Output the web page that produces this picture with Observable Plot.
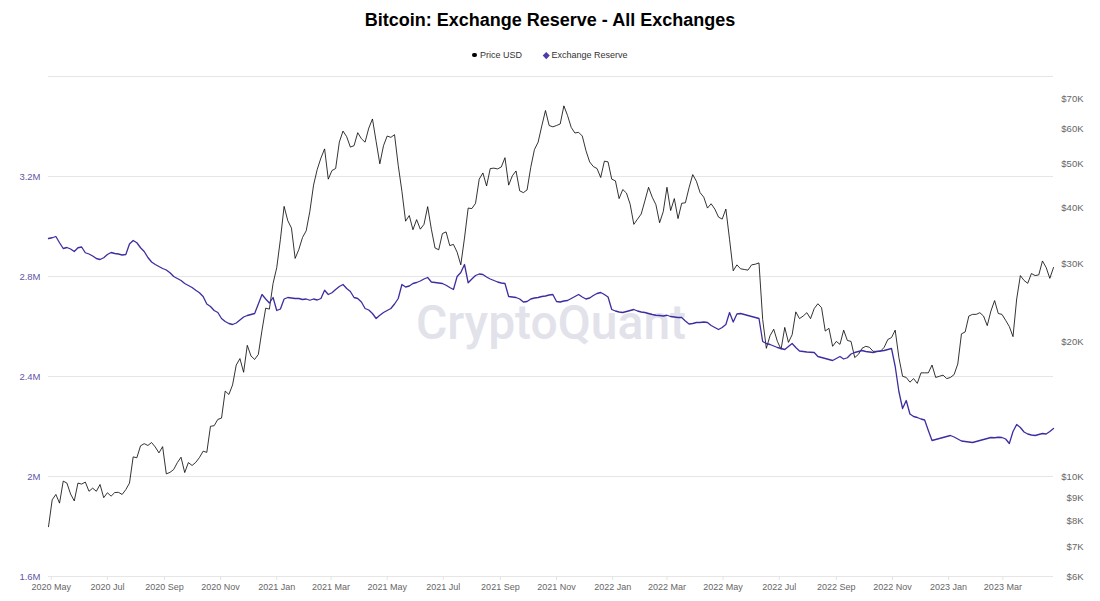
<!DOCTYPE html>
<html>
<head>
<meta charset="utf-8">
<script src="https://cdn.jsdelivr.net/npm/d3@7"></script>
<script src="https://cdn.jsdelivr.net/npm/@observablehq/plot@0.6"></script>
<style>
  html, body { margin: 0; padding: 0; background: #fff; }
  body { font-family: "Liberation Sans", Arial, sans-serif; }
  #wrap { position: relative; width: 1100px; height: 601px; overflow: hidden; background: #fff; }
  #title { position: absolute; top: 10px; left: 0; width: 1100px; text-align: center; font-weight: bold; font-size: 18px; color: #000; }
  #legend { position: absolute; top: 50px; left: 0; width: 1100px; display: flex; justify-content: center; gap: 22px; font-size: 9px; color: #333; line-height: 10px; }
  #legend .item { display: flex; align-items: center; gap: 3px; }
  #legend .dot { width: 4.5px; height: 4.5px; border-radius: 50%; background: #000; display: inline-block; }
  #legend .dia { width: 4.5px; height: 4.5px; background: #4b3caa; transform: rotate(45deg); display: inline-block; }
  .layer { position: absolute; left: 0; top: 66px; }
</style>
</head>
<body>
<div id="wrap">
  <div id="title">Bitcoin: Exchange Reserve - All Exchanges</div>
  <div id="legend">
    <span class="item"><span class="dot"></span>Price USD</span>
    <span class="item"><span class="dia"></span>Exchange Reserve</span>
  </div>
  <div id="layerA" class="layer"></div>
  <div id="layerB" class="layer"></div>
  <div id="layerC" class="layer"></div>
</div>
<script>
// ---- data (one value every 4 days, starting 2020-04-28) ----
const startDate = "2020-04-28";
const stepDays = 4;

const priceUSD = [
  7750,8900,9150,8750,9800,9700,9170,8850,9700,9650,
  9750,9300,9450,9300,9630,9000,9230,9070,9240,9250,
  9150,9380,9700,11100,11050,11750,11880,11770,11950,11680,
  11330,11700,10170,10250,10400,10780,11080,10240,10780,10620,
  10790,11060,11430,11360,12990,13030,13460,13550,15570,15300,
  16070,17800,18400,17150,19700,18650,18320,18800,21300,23850,
  23730,27080,29370,33990,40250,37400,36000,30800,32250,34300,
  35500,39250,44900,48700,51600,54100,46300,48400,48900,56000,
  59300,57600,54600,55000,58800,57000,56000,60200,63100,56200,
  50100,55000,57800,57400,58200,49700,43500,37300,38400,35700,
  37600,35800,36700,40200,35800,32500,32200,35000,35300,32900,
  33100,31800,29800,34200,39900,39800,40900,46300,47800,44700,
  48900,49000,48800,49300,51700,44900,47100,48300,43600,43200,
  43800,49200,53900,56000,60900,65900,61000,60600,61000,61500,
  67500,64200,60400,58700,58900,57800,53600,50600,49400,48900,
  46700,50800,50600,46300,45900,41900,43900,43100,40700,36700,
  37700,38700,41400,44400,42200,40600,37000,39200,44400,39400,
  41900,37800,40900,41000,44300,47400,45800,43200,42200,39900,
  40800,39700,38100,37700,39700,34000,28900,29800,29200,29100,
  29000,29800,29900,30100,22500,19400,20700,21400,20100,19300,
  21600,20000,20800,23400,22600,22900,23300,22600,23800,24400,
  23900,21200,21500,19600,20100,19800,21300,20200,20100,18500,
  18800,19400,19600,19500,19100,19100,19100,19500,20300,20500,
  21300,18500,16800,16700,16300,16600,16200,17100,17100,17100,
  17800,16700,16800,16900,16600,16700,16950,17900,20900,21100,
  22900,23100,23100,23300,22900,21800,23500,24800,23200,23100,
  22400,21700,20600,25000,28200,27500,27100,28500,28200,28300,
  30400,29400,27800,29400
];

// Exchange reserve, millions of BTC
const reserveM = [
  2.952,2.955,2.96,2.935,2.912,2.916,2.91,2.90,2.915,2.918,
  2.895,2.89,2.882,2.872,2.868,2.875,2.888,2.896,2.892,2.89,
  2.886,2.888,2.93,2.944,2.935,2.915,2.90,2.876,2.858,2.848,
  2.84,2.832,2.826,2.815,2.80,2.792,2.784,2.772,2.764,2.756,
  2.745,2.735,2.72,2.69,2.68,2.664,2.656,2.632,2.62,2.612,
  2.608,2.614,2.626,2.638,2.644,2.648,2.652,2.69,2.728,2.71,
  2.694,2.716,2.664,2.67,2.71,2.716,2.714,2.712,2.712,2.708,
  2.71,2.705,2.71,2.706,2.712,2.745,2.728,2.735,2.748,2.76,
  2.768,2.752,2.74,2.716,2.712,2.698,2.672,2.666,2.652,2.632,
  2.645,2.656,2.664,2.672,2.69,2.712,2.768,2.758,2.762,2.772,
  2.776,2.782,2.79,2.796,2.778,2.776,2.774,2.772,2.765,2.756,
  2.748,2.8,2.816,2.848,2.775,2.79,2.804,2.81,2.808,2.798,
  2.79,2.784,2.778,2.774,2.772,2.72,2.718,2.716,2.71,2.698,
  2.7,2.71,2.714,2.716,2.72,2.722,2.726,2.728,2.7,2.698,
  2.702,2.704,2.712,2.72,2.728,2.718,2.71,2.714,2.724,2.732,
  2.736,2.728,2.718,2.668,2.662,2.658,2.656,2.66,2.664,2.668,
  2.662,2.658,2.656,2.652,2.648,2.645,2.644,2.642,2.645,2.64,
  2.638,2.636,2.636,2.622,2.61,2.612,2.616,2.616,2.618,2.616,
  2.604,2.596,2.588,2.596,2.608,2.656,2.618,2.65,2.652,2.648,
  2.644,2.64,2.636,2.632,2.54,2.532,2.528,2.522,2.516,2.512,
  2.508,2.52,2.532,2.516,2.502,2.5,2.498,2.497,2.496,2.48,
  2.476,2.472,2.468,2.464,2.472,2.48,2.47,2.475,2.49,2.496,
  2.5,2.504,2.5,2.498,2.496,2.5,2.502,2.504,2.508,2.512,
  2.44,2.34,2.272,2.304,2.25,2.24,2.236,2.23,2.226,2.184,
  2.144,2.148,2.152,2.156,2.16,2.164,2.158,2.15,2.142,2.14,
  2.138,2.136,2.14,2.144,2.148,2.152,2.156,2.155,2.157,2.156,
  2.15,2.132,2.18,2.208,2.196,2.178,2.17,2.166,2.164,2.168,
  2.172,2.17,2.18,2.192
];

const monthTicks = [
  "2020-05-01","2020-07-01","2020-09-01","2020-11-01",
  "2021-01-01","2021-03-01","2021-05-01","2021-07-01","2021-09-01","2021-11-01",
  "2022-01-01","2022-03-01","2022-05-01","2022-07-01","2022-09-01","2022-11-01",
  "2023-01-01","2023-03-01"
];
const reserveTicks = [1.6, 2, 2.4, 2.8, 3.2];
const reserveGrid = [1.6, 2, 2.4, 2.8, 3.2, 3.6];
const priceTicks = [6000, 7000, 8000, 9000, 10000, 20000, 30000, 40000, 50000, 60000, 70000];

// ---- build table ----
const n = Math.min(priceUSD.length, reserveM.length);
const t0 = new Date(startDate + "T00:00:00Z");
const rows = d3.range(n).map(i => ({
  date: d3.utcDay.offset(t0, stepDays * i),
  price: priceUSD[i],
  reserve: reserveM[i]
}));

const W = 1100, H = 535;
const common = {
  width: W, height: H,
  marginTop: 10, marginBottom: 25, marginLeft: 48, marginRight: 47,
  style: { background: "transparent", fontFamily: "Liberation Sans, Arial, sans-serif", overflow: "visible" }
};
const xDomain = [rows[0].date, rows[n - 1].date];

// Layer A: watermark, grid, left axis, x axis
const layerA = Plot.plot({
  ...common,
  x: { type: "utc", domain: xDomain },
  y: { domain: [1.6, 3.6] },
  marks: [
    Plot.text(["CryptoQuant"], { frameAnchor: "middle", dy: -3, fontSize: 48, fill: "#e2e2eb", fontWeight: 500, fontFamily: "Roboto, Liberation Sans, Arial, sans-serif" }),
    Plot.ruleY(reserveGrid, { stroke: "#e6e6e6", strokeWidth: 1 }),
    Plot.axisY({ anchor: "left", ticks: reserveTicks, tickFormat: d => d + "M", tickSize: 0, tickPadding: 8, fill: "#5f56a8", fontSize: 9.5, label: null }),
    Plot.axisX({ anchor: "bottom", ticks: monthTicks.map(s => new Date(s + "T00:00:00Z")), tickFormat: d3.utcFormat("%Y %b"), tickSize: 4, tickPadding: 3, stroke: "#e3e3e3", fill: "#666", fontSize: 9, label: null })
  ]
});
document.getElementById("layerA").appendChild(layerA);

// Layer B: price (log, right axis)
const layerB = Plot.plot({
  ...common,
  x: { type: "utc", domain: xDomain, axis: null },
  y: { type: "log", domain: [6000, 78500] },
  marks: [
    Plot.line(rows, { x: "date", y: "price", stroke: "#000", strokeWidth: 0.8 }),
    Plot.axisY({ anchor: "right", ticks: priceTicks, tickFormat: d => "$" + (d / 1000) + "K", tickSize: 0, tickPadding: 0, dx: 30, textAnchor: "end", fill: "#666", fontSize: 9.5, label: null })
  ]
});
document.getElementById("layerB").appendChild(layerB);

// Layer C: exchange reserve line
const layerC = Plot.plot({
  ...common,
  x: { type: "utc", domain: xDomain, axis: null },
  y: { domain: [1.6, 3.6], axis: null },
  marks: [
    Plot.line(rows, { x: "date", y: "reserve", stroke: "#3b2ea0", strokeWidth: 1.3 })
  ]
});
document.getElementById("layerC").appendChild(layerC);
</script>
</body>
</html>
